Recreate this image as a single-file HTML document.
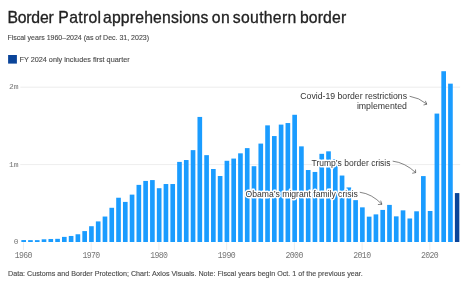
<!DOCTYPE html>
<html><head><meta charset="utf-8"><style>
html,body{margin:0;padding:0;background:#fff;width:468px;height:289px;overflow:hidden}
svg{display:block;will-change:transform}
.t{font-family:"Liberation Sans",sans-serif}
.ax{font-family:"Liberation Mono",monospace;font-size:8px;fill:#777}
.ann{font-family:"Liberation Sans",sans-serif;font-size:8.6px;fill:#333;paint-order:stroke;stroke:#fff;stroke-width:2.8px;stroke-linejoin:round}
</style></head><body>
<svg width="468" height="289" viewBox="0 0 468 289">
<text y="22.5" class="t" font-size="15.75" fill="#222" stroke="#222" stroke-width="0.3"><tspan x="7.41" letter-spacing="-0.2">Border</tspan><tspan x="58.35" letter-spacing="0.3">Patrol</tspan><tspan x="103.0" letter-spacing="0.17">apprehensions</tspan><tspan x="211.8" letter-spacing="0.5">on</tspan><tspan x="232.85" letter-spacing="0.3">southern</tspan><tspan x="299.9" letter-spacing="0.15">border</tspan></text>
<text x="7.4" y="40" class="t" font-size="7" fill="#4a4a4a" stroke="#4a4a4a" stroke-width="0.12">Fiscal years 1960–2024 (as of Dec. 31, 2023)</text>
<rect x="8.1" y="55" width="8.8" height="8.6" fill="#0a4499"/>
<text x="19.5" y="61.8" class="t" font-size="7.27" fill="#4a4a4a" stroke="#4a4a4a" stroke-width="0.12">FY 2024 only includes first quarter</text>
<line x1="20.3" y1="87.2" x2="460.1" y2="87.2" stroke="#e8e8e8" stroke-width="0.8"/>
<line x1="20.3" y1="164.6" x2="460.1" y2="164.6" stroke="#e8e8e8" stroke-width="0.8"/>
<text x="18.6" y="89.4" text-anchor="end" class="ax">2m</text>
<text x="18.6" y="166.8" text-anchor="end" class="ax">1m</text>
<text x="18.6" y="244.1" text-anchor="end" class="ax">0</text>
<line x1="23.44" y1="242.0" x2="23.44" y2="250" stroke="#e8e8e8" stroke-width="0.8"/><text x="23.19" y="257.9" text-anchor="middle" class="ax" style="font-size:8.2px;letter-spacing:-0.65px">1960</text><line x1="91.18" y1="242.0" x2="91.18" y2="250" stroke="#e8e8e8" stroke-width="0.8"/><text x="90.93" y="257.9" text-anchor="middle" class="ax" style="font-size:8.2px;letter-spacing:-0.65px">1970</text><line x1="158.91" y1="242.0" x2="158.91" y2="250" stroke="#e8e8e8" stroke-width="0.8"/><text x="158.66" y="257.9" text-anchor="middle" class="ax" style="font-size:8.2px;letter-spacing:-0.65px">1980</text><line x1="226.65" y1="242.0" x2="226.65" y2="250" stroke="#e8e8e8" stroke-width="0.8"/><text x="226.40" y="257.9" text-anchor="middle" class="ax" style="font-size:8.2px;letter-spacing:-0.65px">1990</text><line x1="294.39" y1="242.0" x2="294.39" y2="250" stroke="#e8e8e8" stroke-width="0.8"/><text x="294.14" y="257.9" text-anchor="middle" class="ax" style="font-size:8.2px;letter-spacing:-0.65px">2000</text><line x1="362.13" y1="242.0" x2="362.13" y2="250" stroke="#e8e8e8" stroke-width="0.8"/><text x="361.88" y="257.9" text-anchor="middle" class="ax" style="font-size:8.2px;letter-spacing:-0.65px">2010</text><line x1="429.87" y1="242.0" x2="429.87" y2="250" stroke="#e8e8e8" stroke-width="0.8"/><text x="429.62" y="257.9" text-anchor="middle" class="ax" style="font-size:8.2px;letter-spacing:-0.65px">2020</text>
<rect x="21.36" y="240.06" width="4.65" height="1.94" fill="#1a9cff"/><rect x="28.14" y="240.14" width="4.65" height="1.86" fill="#1a9cff"/><rect x="34.91" y="240.14" width="4.65" height="1.86" fill="#1a9cff"/><rect x="41.68" y="239.29" width="4.65" height="2.71" fill="#1a9cff"/><rect x="48.46" y="238.98" width="4.65" height="3.02" fill="#1a9cff"/><rect x="55.23" y="238.83" width="4.65" height="3.17" fill="#1a9cff"/><rect x="62.00" y="236.89" width="4.65" height="5.11" fill="#1a9cff"/><rect x="68.78" y="235.96" width="4.65" height="6.04" fill="#1a9cff"/><rect x="75.55" y="234.26" width="4.65" height="7.74" fill="#1a9cff"/><rect x="82.33" y="231.09" width="4.65" height="10.91" fill="#1a9cff"/><rect x="89.10" y="226.21" width="4.65" height="15.79" fill="#1a9cff"/><rect x="95.87" y="221.41" width="4.65" height="20.59" fill="#1a9cff"/><rect x="102.65" y="216.54" width="4.65" height="25.46" fill="#1a9cff"/><rect x="109.42" y="207.79" width="4.65" height="34.21" fill="#1a9cff"/><rect x="116.20" y="197.73" width="4.65" height="44.27" fill="#1a9cff"/><rect x="122.97" y="201.91" width="4.65" height="40.09" fill="#1a9cff"/><rect x="129.74" y="194.63" width="4.65" height="47.37" fill="#1a9cff"/><rect x="136.52" y="184.88" width="4.65" height="57.12" fill="#1a9cff"/><rect x="143.29" y="180.93" width="4.65" height="61.07" fill="#1a9cff"/><rect x="150.07" y="180.08" width="4.65" height="61.92" fill="#1a9cff"/><rect x="156.84" y="188.21" width="4.65" height="53.79" fill="#1a9cff"/><rect x="163.61" y="184.03" width="4.65" height="57.97" fill="#1a9cff"/><rect x="170.39" y="184.03" width="4.65" height="57.97" fill="#1a9cff"/><rect x="177.16" y="161.89" width="4.65" height="80.11" fill="#1a9cff"/><rect x="183.93" y="160.03" width="4.65" height="81.97" fill="#1a9cff"/><rect x="190.71" y="150.13" width="4.65" height="91.87" fill="#1a9cff"/><rect x="197.48" y="116.93" width="4.65" height="125.07" fill="#1a9cff"/><rect x="204.26" y="155.15" width="4.65" height="86.85" fill="#1a9cff"/><rect x="211.03" y="169.01" width="4.65" height="72.99" fill="#1a9cff"/><rect x="217.80" y="176.02" width="4.65" height="65.98" fill="#1a9cff"/><rect x="224.58" y="160.78" width="4.65" height="81.22" fill="#1a9cff"/><rect x="231.35" y="158.57" width="4.65" height="83.43" fill="#1a9cff"/><rect x="238.13" y="153.33" width="4.65" height="88.67" fill="#1a9cff"/><rect x="244.90" y="148.12" width="4.65" height="93.88" fill="#1a9cff"/><rect x="251.67" y="166.22" width="4.65" height="75.78" fill="#1a9cff"/><rect x="258.45" y="143.59" width="4.65" height="98.41" fill="#1a9cff"/><rect x="265.22" y="125.36" width="4.65" height="116.64" fill="#1a9cff"/><rect x="271.99" y="136.06" width="4.65" height="105.94" fill="#1a9cff"/><rect x="278.77" y="124.61" width="4.65" height="117.39" fill="#1a9cff"/><rect x="285.54" y="123.04" width="4.65" height="118.96" fill="#1a9cff"/><rect x="292.32" y="114.78" width="4.65" height="127.22" fill="#1a9cff"/><rect x="299.09" y="146.36" width="4.65" height="95.64" fill="#1a9cff"/><rect x="305.86" y="170.03" width="4.65" height="71.97" fill="#1a9cff"/><rect x="312.64" y="171.95" width="4.65" height="70.05" fill="#1a9cff"/><rect x="319.41" y="153.82" width="4.65" height="88.18" fill="#1a9cff"/><rect x="326.19" y="151.33" width="4.65" height="90.67" fill="#1a9cff"/><rect x="332.96" y="159.03" width="4.65" height="82.97" fill="#1a9cff"/><rect x="339.73" y="175.54" width="4.65" height="66.46" fill="#1a9cff"/><rect x="346.51" y="187.43" width="4.65" height="54.57" fill="#1a9cff"/><rect x="353.28" y="200.14" width="4.65" height="41.86" fill="#1a9cff"/><rect x="360.05" y="207.35" width="4.65" height="34.65" fill="#1a9cff"/><rect x="366.83" y="216.65" width="4.65" height="25.35" fill="#1a9cff"/><rect x="373.60" y="214.38" width="4.65" height="27.62" fill="#1a9cff"/><rect x="380.38" y="209.93" width="4.65" height="32.07" fill="#1a9cff"/><rect x="387.15" y="204.90" width="4.65" height="37.10" fill="#1a9cff"/><rect x="393.92" y="216.35" width="4.65" height="25.65" fill="#1a9cff"/><rect x="400.70" y="210.35" width="4.65" height="31.65" fill="#1a9cff"/><rect x="407.47" y="218.48" width="4.65" height="23.52" fill="#1a9cff"/><rect x="414.25" y="211.30" width="4.65" height="30.70" fill="#1a9cff"/><rect x="421.02" y="176.09" width="4.65" height="65.91" fill="#1a9cff"/><rect x="427.79" y="210.99" width="4.65" height="31.01" fill="#1a9cff"/><rect x="434.57" y="113.58" width="4.65" height="128.42" fill="#1a9cff"/><rect x="441.34" y="71.22" width="4.65" height="170.78" fill="#1a9cff"/><rect x="448.11" y="83.65" width="4.65" height="158.35" fill="#1a9cff"/><rect x="454.89" y="193.08" width="4.45" height="48.92" fill="#0a4499"/>
<text x="407" y="99" text-anchor="end" class="ann" style="font-size:8.7px">Covid-19 border restrictions</text>
<text x="407" y="108.9" text-anchor="end" class="ann" style="font-size:8.75px">implemented</text>
<text x="390.5" y="166" text-anchor="end" class="ann" style="font-size:8.5px">Trump’s border crisis</text>
<text x="357.7" y="196.8" text-anchor="end" class="ann">Obama’s migrant family crisis</text>
<g fill="none" stroke="#333" stroke-width="0.6" stroke-linecap="round" stroke-linejoin="round">
<path d="M410 96.3 Q419 97.6 426.6 103.9"/>
<path d="M425.5 101.2 L426.8 104.2 L423.9 104.9"/>
<path d="M393.1 161.2 Q405 162.6 415.5 172.4"/>
<path d="M415.5 169.9 L415.7 172.6 L412.6 173.2"/>
<path d="M360.2 192.3 Q372 193.8 381.7 204.1"/>
<path d="M380.8 201 L381.9 204.3 L378.3 204.5"/>
</g>
<text x="8" y="275.9" class="t" font-size="7.16" fill="#4a4a4a" stroke="#4a4a4a" stroke-width="0.12">Data: Customs and Border Protection; Chart: Axios Visuals. Note: Fiscal years begin Oct. 1 of the previous year.</text>
</svg>
</body></html>
